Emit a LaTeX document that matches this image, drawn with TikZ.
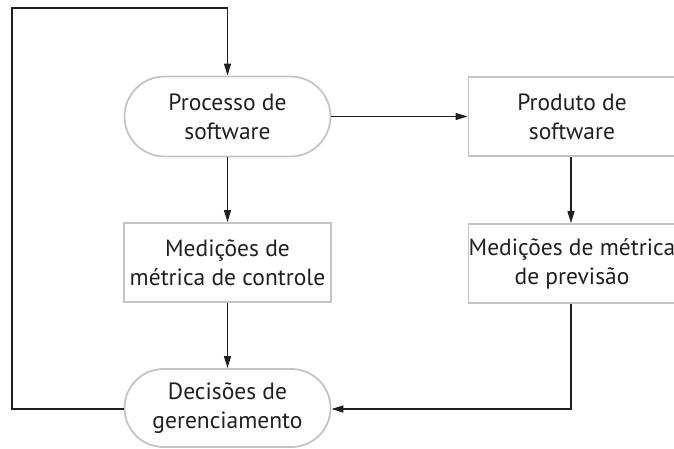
\documentclass[tikz,border=0pt]{standalone}
\usepackage{fontspec}
\setmainfont{PT Sans}
\usetikzlibrary{arrows.meta,shapes.misc}
\definecolor{boxgray}{HTML}{C4C4C4}
\definecolor{ink}{HTML}{231F20}
\begin{document}
\begin{tikzpicture}[x=1pt,y=-1pt,
  base/.style={draw=boxgray,line width=1.8pt,fill=white,text=ink,align=center,
    font=\fontsize{23.5}{29}\selectfont,inner sep=0pt},
  roundbox/.style={base,rounded rectangle,minimum width=206pt,minimum height=80pt},
  sqbox/.style={base,rectangle,minimum width=207pt,minimum height=79pt},
  conn/.style={draw=ink,line width=1.3pt,-{Triangle[length=12pt,width=7pt]}},
  plain/.style={draw=ink,line width=1.3pt}]
\useasboundingbox (0,0) rectangle (674,448);
\begin{scope}
\clip (0,0) rectangle (674,448);
\node[roundbox] (proc) at (227.5,116.5) {Processo de\\software};
\node[sqbox] (prod) at (572,116.5) {Produto de\\software};
\node[sqbox] (ctrl) at (227.5,262.5) {Medições de\\métrica de controle};
\node[sqbox] (prev) at (572,263.5) {Medições de métrica\\de previsão};
\node[roundbox,minimum height=78pt] (dec) at (227.5,408) {Decisões de\\gerenciamento};
\coordinate (tl) at (12,8);
\coordinate (bl) at (12,409);
\coordinate (tr) at (227.5,8);
\coordinate (br) at (571,409);
\draw[conn] (proc.east) -- (prod.west);
\draw[conn] (proc.south) -- (ctrl.north);
\draw[conn] (ctrl.south) -- (dec.north);
\draw[conn] (prod.south -| 571,0) -- (prev.north -| 571,0);
\draw[conn] (prev.south -| br) -- (br) -- (dec.east |- br);
\draw[conn] (dec.west |- bl) -- (bl) -- (tl) -- (tr) -- (proc.north);
\end{scope}
\end{tikzpicture}
\end{document}
